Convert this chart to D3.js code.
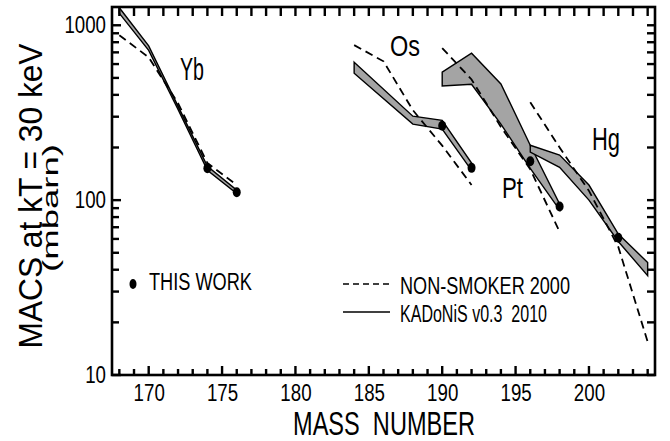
<!DOCTYPE html>
<html><head><meta charset="utf-8">
<script src="https://cdn.jsdelivr.net/npm/d3@7"></script>
<style>
body{margin:0;background:#fff}
text{font-family:"Liberation Sans",Arial,Helvetica,sans-serif;fill:#000}
</style>
</head><body><svg id="c" width="670" height="441"></svg>
<script>
// ---------- data ----------
const xMajorTicks = [170,175,180,185,190,195,200];
const yMajorTicks = [10,100,1000];

// KADoNiS v0.3 2010 (bands: low / high)
const ybBandMass = [168,170,172,174,176];
const ybBandLow  = [1170,718,330,148,109];
const ybBandHigh = [1260,762,345,156,114];

const osBandMass = [184,188,190,192];
const osBandLow  = [532,272,255,148];
const osBandHigh = [615,302,286,163];

const ptBandMass = [190,192,194,196,198];
const ptBandLow  = [450,460,272,152,88];
const ptBandHigh = [539,692,462,206,95];

const hgBandMass = [196,198,200,202,204];
const hgBandLow  = [188,154,100,58,37];
const hgBandHigh = [206,181,122,64,44];

// NON-SMOKER 2000
const ybNsMass = [168,170,172,174,176];
const ybNs     = [877,656,358,163,122];
const osNsMass = [184,186,188,190,192];
const osNs     = [770,622,327,205,122];
const ptNsMass = [190,192,194,196,198];
const ptNs     = [740,490,262,150,66];
const hgNsMass = [196,198,200,202,204];
const hgNs     = [363,200,113,54,15.5];

// THIS WORK
const thisWorkMass = [174,176,190,192,196,198,202];
const thisWorkMacs = [152,111,266,153,167,92,61];

// element labels
const elemNames = ["Yb","Os","Pt","Hg"];

// ---------- layout ----------
const svg = d3.select("#c");
const L = 112, R = 655, T = 7, B = 375;
const x = d3.scaleLinear().domain([167.5,204.5]).range([L,R]);
const y = d3.scaleLog().domain([10,1272]).range([B,T]);

const zip = (m,a,b) => m.map((v,i)=>({m:v,lo:a[i],hi:b?b[i]:a[i]}));

// bands
const area = d3.area().x(d=>x(d.m)).y0(d=>y(d.lo)).y1(d=>y(d.hi));
[[ybBandMass,ybBandLow,ybBandHigh],[osBandMass,osBandLow,osBandHigh],
 [ptBandMass,ptBandLow,ptBandHigh],[hgBandMass,hgBandLow,hgBandHigh]].forEach(([m,lo,hi])=>{
  svg.append("path").datum(zip(m,lo,hi)).attr("d",area)
    .attr("fill","#a4a4a4").attr("stroke","#000").attr("stroke-width",1.4)
    .attr("stroke-linejoin","miter");
});

// dashed lines
const line = d3.line().x(d=>x(d.m)).y(d=>y(d.lo));
[[ybNsMass,ybNs],[osNsMass,osNs],[ptNsMass,ptNs],[hgNsMass,hgNs]].forEach(([m,v])=>{
  svg.append("path").datum(zip(m,v)).attr("d",line)
    .attr("fill","none").attr("stroke","#000").attr("stroke-width",1.8)
    .attr("stroke-dasharray","8,5");
});

// this work points
svg.selectAll(".pt").data(thisWorkMass.map((m,i)=>({m,v:thisWorkMacs[i]}))).enter()
  .append("ellipse").attr("cx",d=>x(d.m)).attr("cy",d=>y(d.v))
  .attr("rx",4).attr("ry",5).attr("fill","#000");

// frame
svg.append("rect").attr("x",L).attr("y",T).attr("width",R-L).attr("height",B-T)
  .attr("fill","none").attr("stroke","#000").attr("stroke-width",2.6);

// ---------- ticks as filled rects, positioned with the scales ----------
const xAll = d3.range(168,205);
const yAll = y.ticks();
const tk = svg.append("g").attr("fill","#000");
tk.selectAll("rect.xb").data(xAll).join("rect").attr("class","xb")
  .attr("x",d=>x(d)-1.2).attr("width",2.4)
  .attr("y",d=>B-(d%5===0?9:6)).attr("height",d=>(d%5===0?9:6));
tk.selectAll("rect.xt").data(xAll).join("rect").attr("class","xt")
  .attr("x",d=>x(d)-1.2).attr("width",2.4).attr("y",T).attr("height",9);
tk.selectAll("rect.yl").data(yAll).join("rect").attr("class","yl")
  .attr("y",d=>y(d)-1.2).attr("height",2.4).attr("x",L)
  .attr("width",d=>yMajorTicks.includes(d)?9:7);
tk.selectAll("rect.yr").data(yAll).join("rect").attr("class","yr")
  .attr("y",d=>y(d)-1.2).attr("height",2.4).attr("x",R-8).attr("width",8);

// tick labels via d3 axes
const cleanAxis = g => { g.select(".domain").remove(); g.selectAll("line").remove();
  g.attr("font-family",null).attr("font-size",null); };
svg.append("g").attr("transform",`translate(0,${B})`)
  .call(d3.axisBottom(x).tickValues(xMajorTicks).tickSize(0).tickPadding(10).tickFormat(d3.format("d")))
  .call(cleanAxis)
  .selectAll("text").attr("font-size",23).attr("textLength",d=>String(d).length*10.4)
  .attr("lengthAdjust","spacingAndGlyphs");
svg.append("g").attr("transform",`translate(${L},0)`)
  .call(d3.axisLeft(y).tickValues(yMajorTicks).tickSize(0).tickPadding(6).tickFormat(d3.format("d")))
  .call(cleanAxis)
  .selectAll("text").attr("font-size",23).attr("textLength",d=>String(d).length*10.4)
  .attr("lengthAdjust","spacingAndGlyphs");

// ---------- texts ----------
function txt(s,px,py,size,len,anchor,rot){
  const t = svg.append("text").text(s).attr("font-size",size)
    .attr("textLength",len).attr("lengthAdjust","spacingAndGlyphs")
    .attr("text-anchor",anchor||"start").style("white-space","pre");
  if(rot) t.attr("transform",`translate(${px},${py}) rotate(-90)`);
  else t.attr("x",px).attr("y",py);
  return t;
}
txt("MASS  NUMBER",384,435,32.5,182,"middle");
txt("MACS at kT = 30 keV",42,196,33,305,"middle",true);
txt("(mbarn)",58,208,22,128,"middle",true);

// element labels
txt(elemNames[0],180,80,32,24);
txt(elemNames[1],390,56,29,30);
txt(elemNames[2],502,198,30,21);
txt(elemNames[3],592,150,32,28);

// legend
svg.append("ellipse").attr("cx",133).attr("cy",284).attr("rx",3.5).attr("ry",5).attr("fill","#000");
txt("THIS WORK",149,289.5,23,103);
svg.append("line").attr("x1",343).attr("x2",390).attr("y1",284).attr("y2",284)
  .attr("stroke","#000").attr("stroke-width",1.6).attr("stroke-dasharray","6,4");
txt("NON-SMOKER 2000",400,293.5,23,170);
svg.append("line").attr("x1",343).attr("x2",390).attr("y1",312).attr("y2",312)
  .attr("stroke","#000").attr("stroke-width",1.4);
txt("KADoNiS v0.3  2010",400,321.5,23,147);
</script></body></html>
